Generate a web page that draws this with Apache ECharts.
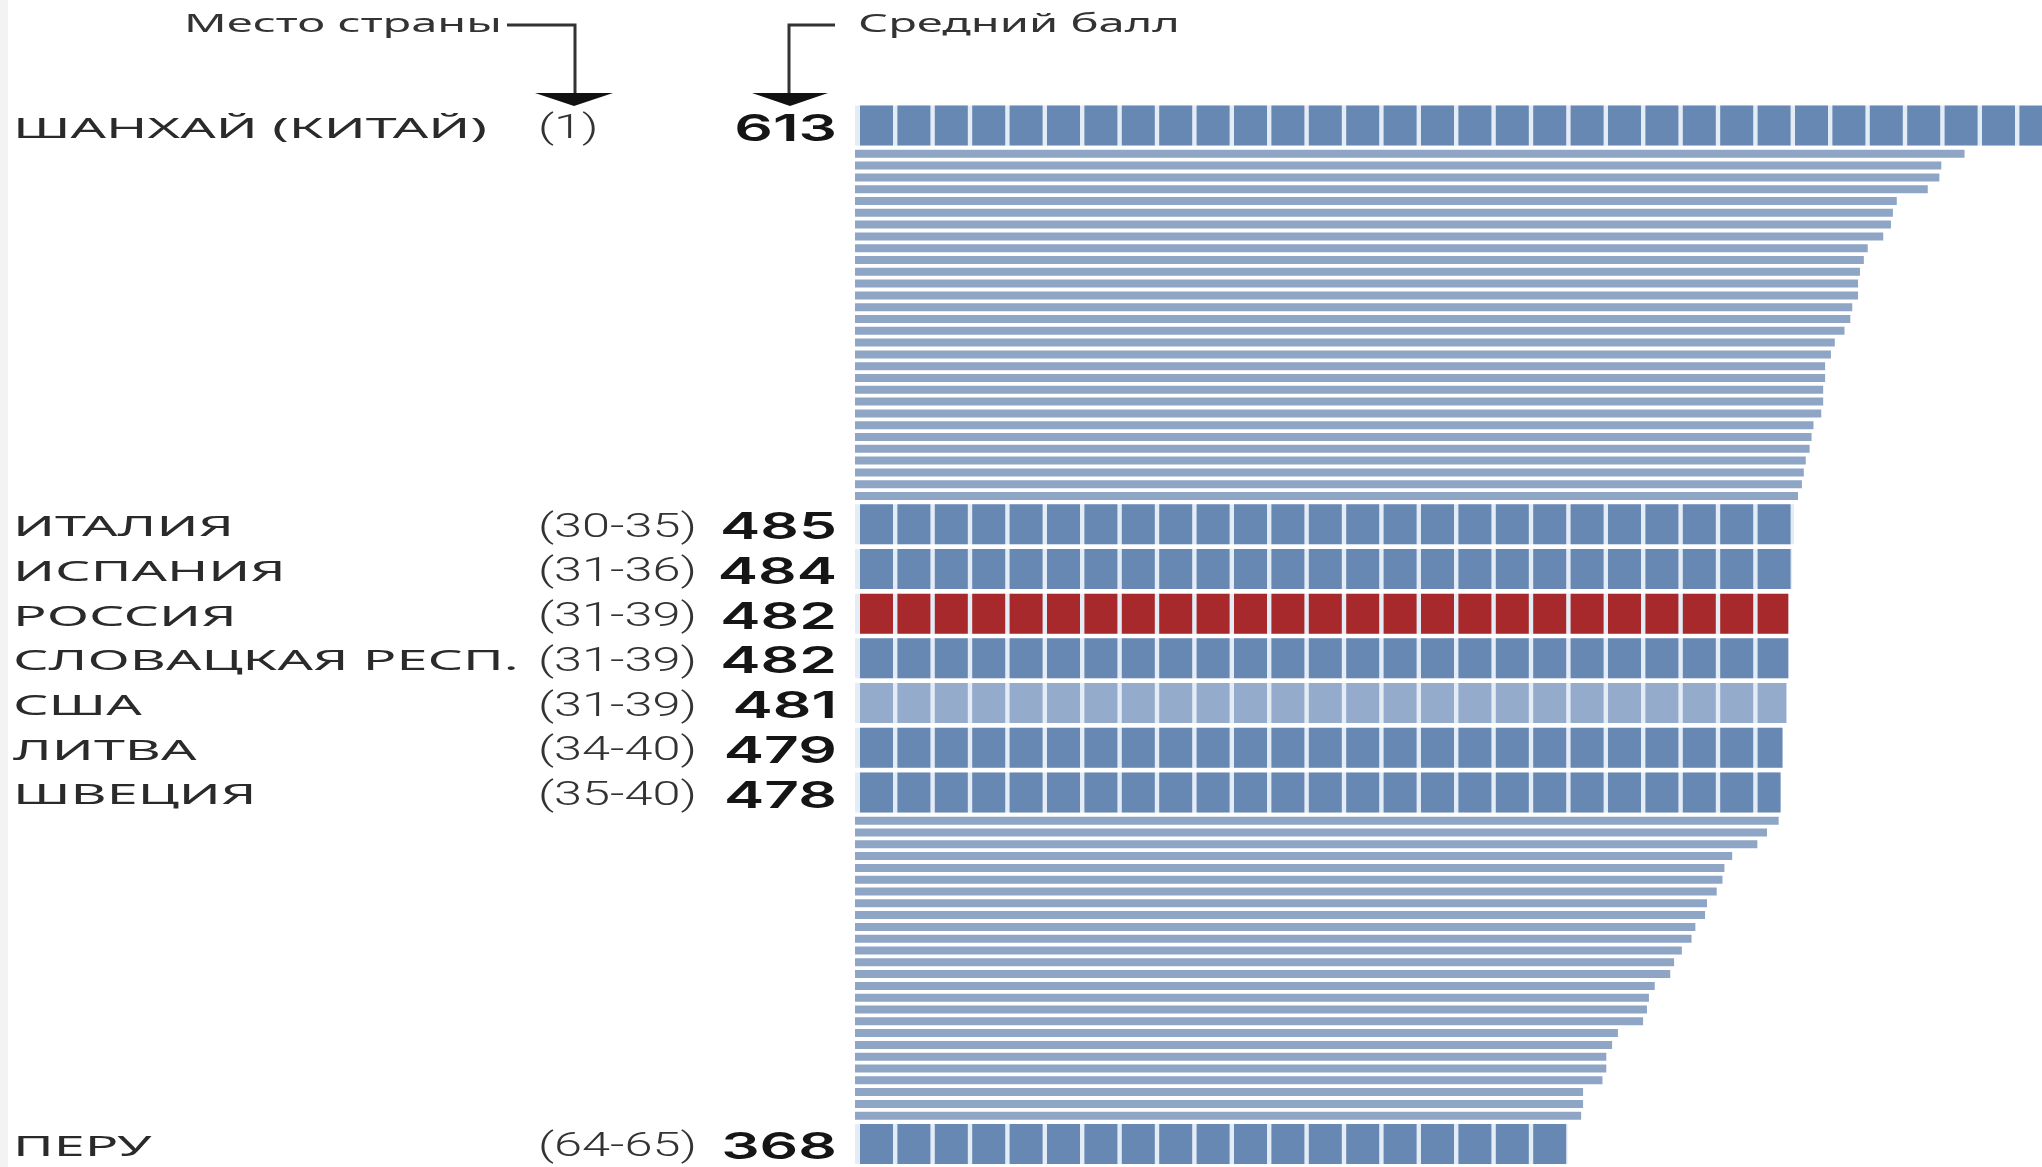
<!DOCTYPE html>
<html>
<head>
<meta charset="utf-8">
<title>PISA 2012</title>
<script src="https://cdn.jsdelivr.net/npm/echarts@6/dist/echarts.min.js"></script>
<style>
  html, body { margin: 0; padding: 0; background: #fff; }
  #chart { width: 2042px; height: 1167px; }
</style>
</head>
<body>
<div id="chart"></div>
<script>
// Шанхай
const topNames = ["ШАНХАЙ (КИТАЙ)"];
const topRanks = ["(1)"];
const topScores = [613];
// места 2-31, без подписей
const upperScores = [573, 561, 560, 554, 538, 536, 535, 531, 523, 521,
  519, 518, 518, 515, 514, 511, 506, 504, 501, 501,
  500, 500, 499, 495, 494, 493, 491, 490, 489, 487];
// выделенная группа
const midNames = ["ИТАЛИЯ", "ИСПАНИЯ", "РОССИЯ", "СЛОВАЦКАЯ РЕСП.", "США", "ЛИТВА", "ШВЕЦИЯ"];
const midRanks = ["(30-35)", "(31-36)", "(31-39)", "(31-39)", "(31-39)", "(34-40)", "(35-40)"];
const midScores = [485, 484, 482, 482, 481, 479, 478];
// места 39-64
const lowerScores = [477, 471, 466, 453, 449, 448, 445, 440, 439, 434,
  432, 427, 423, 421, 413, 410, 409, 407, 394, 391,
  388, 388, 386, 376, 376, 375];
const bottomNames = ["ПЕРУ"];
const bottomRanks = ["(64-65)"];
const bottomScores = [368];
const headerLabels = ["Место страны", "Средний балл"];

const maxScore = 613;

const segColor = "#6888b4";
const thinColor = "#8ea5c6";
const gapColor = "#e4ecf6";
const rowColors = { "РОССИЯ": "#a8292b", "США": "#95abcc" };

const blocks = [
  { kind: "big", names: topNames, ranks: topRanks, scores: topScores },
  { kind: "thin", scores: upperScores },
  { kind: "big", names: midNames, ranks: midRanks, scores: midScores },
  { kind: "thin", scores: lowerScores },
  { kind: "big", names: bottomNames, ranks: bottomRanks, scores: bottomScores }
];

const pitch = { big: 44.7, thin: 11.8 };
const gridLeft = 855;
// сегменты у крупных полос
const segStart = 5, segPitch = 37.4, segWidth = 33, bigBarH = 40;

function segmentRenderer(names) {
  return function (params, api) {
    const cat = api.value(1);
    const start = api.coord([0, cat]);
    const end = api.coord([api.value(0), cat]);
    const y = start[1] - bigBarH / 2;
    const fill = rowColors[names[params.dataIndex]] || segColor;
    const children = [{
      type: "rect",
      shape: { x: start[0], y: y, width: end[0] - start[0], height: bigBarH },
      style: { fill: gapColor }
    }];
    for (let x = start[0] + segStart; x < end[0]; x += segPitch) {
      children.push({
        type: "rect",
        shape: { x: x, y: y, width: Math.min(segWidth, end[0] - x), height: bigBarH },
        style: { fill: fill }
      });
    }
    return { type: "group", children: children };
  };
}

let gridTop = 103.2;
const grid = [], xAxis = [], yAxis = [], series = [];
blocks.forEach((b, i) => {
  const h = b.scores.length * pitch[b.kind];
  grid.push({ left: gridLeft, right: 0, top: gridTop, height: h });
  gridTop += h;
  xAxis.push({ gridIndex: i, type: "value", min: 0, max: maxScore, show: false });
  const cats = b.names || b.scores.map((_, k) => "r" + i + "_" + k);
  yAxis.push({ gridIndex: i, type: "category", inverse: true, show: false, data: cats });
  if (b.kind === "thin") {
    series.push({
      type: "bar", xAxisIndex: i, yAxisIndex: i, barWidth: 8, silent: true,
      itemStyle: { color: thinColor }, data: b.scores
    });
  } else {
    series.push({
      type: "custom", xAxisIndex: i, yAxisIndex: i, silent: true,
      renderItem: segmentRenderer(b.names),
      encode: { x: 0, y: 1 },
      data: b.scores.map((v, k) => [v, cats[k]])
    });
  }
});

const chart = echarts.init(document.getElementById("chart"));
chart.setOption({ animation: false, grid: grid, xAxis: xAxis, yAxis: yAxis, series: series });

// в оригинале текст растянут по ширине, подгоняем scaleX
const ctx = document.createElement("canvas").getContext("2d");
function stretch(font, sample, target) {
  ctx.font = font;
  return target / ctx.measureText(sample).width;
}
const nameFont = "normal 28px 'Noto Sans'";
const rankFont = "300 34px Roboto";
const scoreFont = "600 37px Inter";
const headFont = "normal 25px 'Noto Sans'";
const nameScale = stretch(nameFont, "ИТАЛИЯ", 221);
const rankScale = stretch(rankFont, "(30-35)", 159);
const scoreScale = stretch(scoreFont, "485", 117);
const headScale = stretch(headFont, "Место страны", 318);

function label(text, x, y, font, scale, align, fill) {
  return {
    type: "text", x: x, y: y, scaleX: scale, silent: true,
    style: { text: text, font: font, fill: fill, align: align, verticalAlign: "middle" }
  };
}

const graphic = [
  { type: "rect", shape: { x: 0, y: 0, width: 8, height: 1167 }, style: { fill: "#f3f3f3" }, silent: true }
];
blocks.forEach((b, i) => {
  if (b.kind !== "big") return;
  b.names.forEach((n, k) => {
    const y = chart.convertToPixel({ yAxisIndex: i }, n) + 4;
    graphic.push(label(n, 13, y, nameFont, nameScale, "left", "#2a2a2a"));
    graphic.push(label(b.ranks[k], 538, y, rankFont, rankScale, "left", "#333"));
    graphic.push(label(String(b.scores[k]), 837, y, scoreFont, scoreScale, "right", "#151515"));
  });
});

// шапка со стрелками
graphic.push(label(headerLabels[0], 184, 25, headFont, headScale, "left", "#333"));
graphic.push(label(headerLabels[1], 858, 25, headFont, headScale, "left", "#333"));
graphic.push({
  type: "polyline", silent: true,
  shape: { points: [[507, 25], [575, 25], [575, 94]] },
  style: { stroke: "#333", lineWidth: 3, fill: null }
});
graphic.push({
  type: "polygon", silent: true,
  shape: { points: [[535, 93], [613, 93], [574, 106]] },
  style: { fill: "#111" }
});
graphic.push({
  type: "polyline", silent: true,
  shape: { points: [[835, 25], [789, 25], [789, 94]] },
  style: { stroke: "#333", lineWidth: 3, fill: null }
});
graphic.push({
  type: "polygon", silent: true,
  shape: { points: [[752, 93], [828, 93], [790, 106]] },
  style: { fill: "#111" }
});

chart.setOption({ graphic: graphic });
</script>
</body>
</html>
